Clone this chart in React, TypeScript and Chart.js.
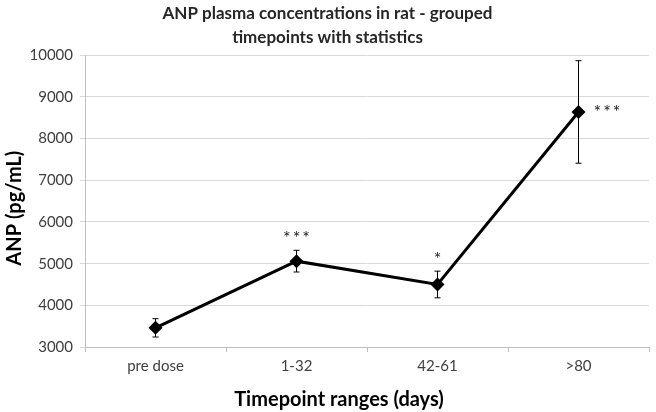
import React, { useEffect, useRef } from "react";
import { Chart, registerables } from "chart.js";

Chart.register(...registerables);

const categories = ["pre dose", "1-32", "42-61", ">80"];
const anpValues = [3460, 5060, 4500, 8640];
const anpErrors = [220, 260, 320, 1230];
const significance = ["", "***", "*", "***"];
const significancePlacement = ["", "above", "above", "right"];
const yTicks = [3000, 4000, 5000, 6000, 7000, 8000, 9000, 10000];
const titleLines = ["ANP plasma concentrations in rat - grouped", "timepoints with statistics"];
const xTitle = "Timepoint ranges (days)";
const yTitle = "ANP (pg/mL)";

const FONT = "Lato, 'Open Sans', sans-serif";

const errorBarPlugin = {
  id: "errorBars",
  afterDatasetsDraw(chart: any) {
    const ctx = chart.ctx;
    const x = chart.scales.x;
    const y = chart.scales.y;
    ctx.save();
    ctx.strokeStyle = "#000";
    ctx.lineWidth = 1;
    anpValues.forEach((v, i) => {
      const px = x.getPixelForValue(i);
      const top = y.getPixelForValue(v + anpErrors[i]);
      const bot = y.getPixelForValue(v - anpErrors[i]);
      ctx.beginPath();
      ctx.moveTo(px, top);
      ctx.lineTo(px, bot);
      ctx.moveTo(px - 3, top);
      ctx.lineTo(px + 3, top);
      ctx.moveTo(px - 3, bot);
      ctx.lineTo(px + 3, bot);
      ctx.stroke();
    });
    ctx.fillStyle = "#222";
    ctx.font = "18px " + FONT;
    (ctx as any).letterSpacing = "2px";
    ctx.textBaseline = "middle";
    significance.forEach((s, i) => {
      if (!s) return;
      const px = x.getPixelForValue(i);
      if (significancePlacement[i] === "above") {
        const top = y.getPixelForValue(anpValues[i] + anpErrors[i]);
        ctx.textAlign = "center";
        ctx.fillText(s, px + 1, top - 12);
      } else {
        const py = y.getPixelForValue(anpValues[i]);
        ctx.textAlign = "left";
        ctx.fillText(s, px + 15, py);
      }
    });
    ctx.restore();
  },
  afterDraw(chart: any) {
    const ctx = chart.ctx;
    const area = chart.chartArea;
    ctx.save();
    ctx.fillStyle = "#000";
    ctx.font = "bold 20px " + FONT;
    ctx.textAlign = "center";
    ctx.textBaseline = "alphabetic";
    ctx.fillText(xTitle, (area.left + area.right) / 2 - 28, 406);
    ctx.translate(15, (area.top + area.bottom) / 2 + 7);
    ctx.rotate(-Math.PI / 2);
    ctx.textBaseline = "middle";
    ctx.fillText(yTitle, 0, 0);
    ctx.restore();
  },
};

export default function App() {
  const ref = useRef<HTMLCanvasElement>(null);
  useEffect(() => {
    if (!ref.current) return;
    const chart = new Chart(ref.current, {
      type: "line",
      data: {
        labels: categories,
        datasets: [
          {
            data: anpValues,
            borderColor: "#000",
            backgroundColor: "#000",
            borderWidth: 3,
            pointStyle: "rectRot",
            pointRadius: 7,
            pointBorderWidth: 0,
            pointBackgroundColor: "#000",
            tension: 0,
          },
        ],
      },
      options: {
        animation: false,
        responsive: false,
        devicePixelRatio: 1,
        layout: { padding: { left: 0, right: 1, top: 0, bottom: 0 } },
        plugins: {
          legend: { display: false },
          tooltip: { enabled: false },
          title: {
            display: true,
            text: titleLines,
            color: "#262626",
            font: { family: FONT, size: 17, weight: "bold", lineHeight: 1.45 },
            padding: { top: 1, bottom: 5 },
          },
        },
        scales: {
          x: {
            type: "category",
            offset: true,
            grid: {
              offset: true,
              drawOnChartArea: false,
              drawTicks: true,
              tickLength: 5,
              color: "#bfbfbf",
            },
            border: { color: "#bfbfbf" },
            ticks: {
              color: "#404040",
              font: { family: FONT, size: 15 },
              padding: 5,
            },
            afterFit(scale: any) {
              scale.height = 65;
            },
          },
          y: {
            min: 3000,
            max: 10000,
            afterBuildTicks(scale: any) {
              scale.ticks = yTicks.map((v) => ({ value: v }));
            },
            grid: {
              color: "#d9d9d9",
              tickLength: 5,
            },
            border: { color: "#bfbfbf" },
            ticks: {
              color: "#404040",
              font: { family: FONT, size: 15 },
              padding: 7,
              callback: (v: any) => String(v),
            },
            afterFit(scale: any) {
              scale.width = 85;
            },
          },
        },
      },
      plugins: [errorBarPlugin],
    });
    return () => chart.destroy();
  }, []);
  return (
    <div style={{ position: "absolute", left: 0, top: 0, width: 656, height: 412, background: "#fff" }}>
      <canvas ref={ref} width={656} height={412} style={{ width: 656, height: 412 }} />
    </div>
  );
}
